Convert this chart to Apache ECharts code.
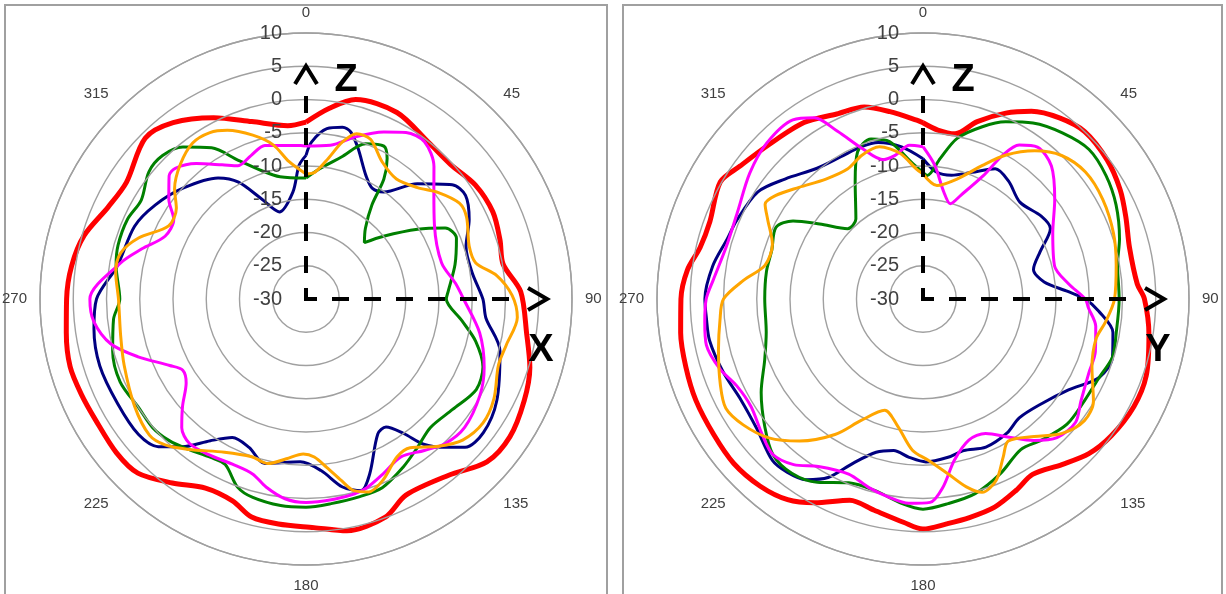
<!DOCTYPE html>
<html>
<head>
<meta charset="utf-8">
<script src="https://cdn.jsdelivr.net/npm/echarts@6/dist/echarts.min.js"></script>
<style>
  html, body { margin: 0; padding: 0; background: #ffffff; }
  #chart { width: 1226px; height: 594px; }
</style>
</head>
<body>
<div id="chart"></div>
<script>
// Radial scale (dB) and angle ticks (degrees, clockwise from top)
const radiusTicks = [-30, -25, -20, -15, -10, -5, 0, 5, 10];
const angleTicks = [0, 45, 90, 135, 180, 225, 270, 315];

// X-Z plane patterns: [angle in degrees, level in dB]
const xzRed = [[0,-3.4],[7,-1.1],[14,0.9],[26,1.2],[38,-0.1],[47,-0.3],[56,0.7],[65,1.0],[73,0.5],[80,0.1],[88,2.3],[99,3.6],[107,5.2],[115,6.2],[124,7.0],[132,6.6],[141,4.1],[153,3.1],[160,4.9],[170,5.4],[178,4.4],[187,4.1],[194,3.8],[200,2.3],[208,2.2],[216,4.2],[224,6.4],[231,6.7],[240,6.5],[247,6.7],[254,6.9],[262,6.4],[270,6.0],[278,5.6],[286,4.7],[295,2.8],[303,2.2],[315,4.2],[323,3.2],[333,0.6],[343,-2.1],[354,-3.8],[360,-3.4]];
const xzNavy = [[0,-8.4],[2,-6.4],[7,-4.2],[12,-3.6],[15,-4.0],[19,-6.0],[26,-9.4],[31,-10.6],[36,-10.1],[44,-5.9],[52,-2.1],[57,-1.4],[64,-2.7],[72,-4.7],[81,-4.7],[90,-3.4],[96,-2.8],[105,0.2],[118,2.5],[127,3.4],[133,2.7],[137,0.5],[141,-1.9],[144,-5.0],[148,-7.3],[152,-7.0],[160,-2.0],[164,0.0],[169,-1.2],[175,-4.1],[182,-5.5],[194,-4.5],[201,-6.1],[208,-6.4],[214,-4.3],[220,-1.0],[225,1.4],[231,2.4],[241,2.4],[252,2.6],[262,2.2],[270,1.5],[280,-1.2],[293,-2.0],[302,-3.3],[312,-5.1],[324,-7.5],[330,-9.7],[336,-13.5],[343,-16.3],[353,-13.8],[357,-9.9],[360,-8.4]];
const xzGreen = [[0,-11.8],[6,-10.3],[14,-8.0],[21,-5.0],[27,-4.2],[30,-5.6],[33,-8.5],[35,-12.7],[40,-16.1],[46,-17.8],[51,-15.0],[58,-10.2],[63,-6.5],[68,-5.6],[77,-7.0],[87,-8.6],[90,-8.9],[98,-6.3],[104,-3.7],[111,-1.5],[118,-1.0],[127,-2.4],[136,-3.1],[143,-2.1],[150,-0.8],[158,0.6],[165,0.8],[173,1.0],[180,1.3],[187,1.3],[195,0.9],[200,0.1],[206,-2.3],[211,-2.2],[218,-1.3],[224,-0.4],[230,0.1],[237,0.0],[246,0.6],[255,0.1],[264,-0.9],[270,-2.0],[280,-1.0],[286,-0.6],[294,-0.6],[301,-1.1],[309,0.4],[315,0.5],[321,-0.6],[328,-3.2],[334,-6.8],[341,-9.6],[348,-11.2],[360,-11.8]];
const xzMagenta = [[0,-7.0],[9,-6.6],[17,-4.5],[25,-2.3],[31,-0.8],[37,-0.4],[44,-2.3],[50,-4.9],[60,-7.7],[75,-8.9],[84,-7.4],[90,-6.3],[101,-3.4],[111,-1.3],[119,-0.1],[129,0.7],[136,0.2],[142,-1.1],[149,-2.3],[156,-1.3],[162,-0.2],[166,0.2],[172,0.4],[180,0.6],[186,0.2],[192,-1.1],[197,-2.5],[204,-2.8],[212,-2.4],[219,-2.1],[224,-3.1],[229,-5.4],[235,-8.0],[240,-8.6],[244,-7.2],[251,-3.3],[257,0.1],[264,2.1],[270,2.5],[281,-1.6],[287,-4.2],[294,-6.8],[301,-6.8],[306,-4.5],[312,-2.3],[315,-2.2],[321,-3.8],[328,-6.2],[333,-7.5],[339,-6.9],[345,-6.1],[358,-6.9],[360,-7.0]];
const xzOrange = [[0,-11.2],[4,-10.9],[9,-8.6],[13,-5.8],[17,-4.0],[22,-4.1],[29,-6.4],[37,-7.4],[45,-6.3],[51,-4.5],[58,-2.8],[63,-2.9],[72,-4.2],[78,-3.9],[83,-1.1],[89,1.0],[95,1.9],[103,0.9],[109,0.6],[118,2.0],[125,2.5],[132,1.7],[138,-0.2],[145,-2.7],[150,-2.6],[157,-0.4],[162,0.5],[166,-0.3],[169,-2.2],[173,-4.5],[177,-6.2],[181,-6.7],[187,-5.8],[193,-4.6],[199,-4.9],[208,-3.9],[218,-1.3],[224,0.5],[229,1.2],[238,0.4],[250,-0.9],[259,-1.6],[270,-1.8],[278,-1.1],[284,-1.3],[290,-3.2],[298,-6.6],[305,-6.2],[310,-4.2],[317,-2.3],[324,-1.0],[330,-1.1],[335,-2.0],[342,-4.1],[348,-6.3],[353,-9.2],[360,-11.2]];

// Y-Z plane patterns: [angle in degrees, level in dB]
const yzRed = [[0,-3.5],[5,-4.5],[11,-4.7],[17,-2.1],[24,0.6],[30,2.6],[37,4.1],[44,5.0],[53,4.7],[61,3.9],[68,2.9],[76,2.0],[86,2.3],[90,3.3],[99,4.4],[109,5.5],[117,5.6],[126,5.0],[133,4.1],[140,2.5],[148,1.1],[154,2.0],[161,3.1],[168,3.6],[174,4.0],[180,4.6],[185,3.7],[193,2.6],[200,2.2],[208,4.7],[214,6.4],[221,7.3],[229,7.7],[237,7.5],[246,7.4],[254,7.1],[262,6.8],[270,6.4],[277,5.7],[283,4.4],[290,4.1],[300,5.2],[306,4.0],[315,2.8],[326,2.0],[335,0.7],[343,0.2],[350,-1.4],[358,-3.1],[360,-3.5]];
const yzNavy = [[0,-8.9],[6,-10.8],[13,-10.9],[21,-9.6],[29,-7.6],[36,-8.1],[45,-9.4],[55,-8.3],[61,-8.1],[68,-11.0],[75,-12.8],[82,-11.6],[87,-8.2],[90,-5.6],[94,-3.5],[100,-1.0],[107,-0.2],[114,-1.0],[122,-4.2],[132,-6.3],[141,-7.0],[148,-6.2],[157,-5.8],[165,-6.4],[171,-5.9],[179,-5.5],[185,-6.1],[191,-6.8],[197,-5.9],[203,-3.2],[208,0.4],[213,2.4],[218,3.1],[223,3.2],[232,1.7],[241,1.3],[250,2.0],[259,2.7],[265,2.7],[270,2.8],[279,2.0],[287,0.8],[293,0.4],[303,-0.4],[311,-2.5],[321,-4.7],[330,-5.3],[338,-5.3],[344,-5.5],[352,-6.9],[360,-8.9]];
const yzGreen = [[0,-11.0],[2,-11.4],[7,-8.7],[12,-5.3],[19,-2.6],[25,-0.6],[32,1.2],[40,2.6],[48,3.6],[56,3.2],[64,2.3],[73,0.9],[80,-0.3],[90,-0.5],[100,-0.5],[107,-0.2],[114,-1.0],[122,-1.3],[131,-1.3],[140,-2.3],[147,-3.0],[156,-1.3],[165,0.3],[173,1.0],[180,1.6],[186,0.9],[194,-0.3],[202,-0.2],[210,1.8],[217,2.8],[224,2.5],[231,0.6],[240,-1.9],[249,-4.5],[258,-5.9],[270,-6.2],[280,-6.1],[288,-6.1],[296,-5.4],[301,-7.2],[306,-10.8],[313,-14.5],[320,-14.3],[330,-9.6],[336,-5.8],[342,-4.7],[348,-5.8],[355,-9.3],[360,-11.0]];
const yzMagenta = [[0,-7.1],[5,-9.8],[11,-13.6],[16,-15.1],[20,-13.4],[26,-9.4],[29,-5.3],[32,-2.7],[37,-1.4],[44,-2.2],[53,-5.2],[63,-8.1],[76,-9.6],[84,-8.0],[90,-5.6],[93,-5.1],[99,-3.7],[107,-2.9],[114,-2.7],[123,-1.7],[129,-0.5],[136,-1.0],[142,-3.0],[148,-5.5],[155,-7.7],[162,-7.7],[169,-5.3],[174,-1.5],[178,0.6],[184,0.8],[190,0.2],[196,-0.5],[203,-1.4],[212,-0.3],[218,1.6],[224,2.5],[230,1.6],[238,0.5],[245,0.9],[251,2.3],[258,3.3],[264,3.0],[270,2.6],[275,1.7],[285,0.6],[295,0.8],[306,2.2],[315,3.2],[324,3.3],[329,1.8],[333,-1.7],[338,-5.6],[344,-8.2],[349,-8.0],[355,-6.8],[360,-7.1]];
const yzOrange = [[0,-11.2],[7,-12.8],[16,-11.2],[24,-8.0],[30,-5.0],[37,-2.1],[44,0.0],[52,1.0],[61,0.9],[71,0.3],[80,-0.5],[90,-1.2],[97,-2.3],[103,-3.3],[112,-2.6],[121,-0.1],[127,0.4],[134,-0.9],[141,-3.4],[149,-5.1],[153,-3.4],[158,-0.6],[163,0.4],[167,-1.0],[172,-3.5],[178,-5.7],[184,-7.2],[191,-10.4],[199,-12.3],[207,-9.5],[213,-5.7],[221,-1.7],[228,1.2],[235,3.0],[241,3.9],[247,3.1],[256,1.7],[264,0.7],[270,0.0],[276,-2.9],[282,-5.7],[290,-5.9],[297,-3.8],[301,-2.3],[305,-2.9],[312,-4.9],[321,-6.8],[330,-7.4],[337,-6.5],[344,-6.2],[351,-7.8],[357,-10.4],[360,-11.2]];

// Panel axis letters
const panelLetters = [['Z', 'X'], ['Z', 'Y']];

const FONT = '"Liberation Sans", Arial, sans-serif';
const TEXT_COLOR = '#404040';
const RING_COLOR = '#a0a0a0';

const panels = [
  { cx: 306, cy: 299, box: [5, 5, 602, 592] },
  { cx: 923, cy: 299, box: [623, 5, 599, 592] }
];
const R = 266;

const traces = [
  [xzRed, xzNavy, xzGreen, xzMagenta, xzOrange],
  [yzRed, yzNavy, yzGreen, yzMagenta, yzOrange]
];
const traceStyle = [
  { color: '#ff0000', width: 5 },
  { color: '#000080', width: 3 },
  { color: '#008000', width: 3 },
  { color: '#ff00ff', width: 3 },
  { color: '#ffa500', width: 3 }
];

const chart = echarts.init(document.getElementById('chart'), null, { renderer: 'canvas' });

const polar = panels.map(p => ({ center: [p.cx, p.cy], radius: R }));

const angleAxis = panels.map((p, i) => ({
  polarIndex: i,
  type: 'value',
  min: 0,
  max: 360,
  interval: 45,
  startAngle: 90,
  clockwise: true,
  axisLine: { show: true, lineStyle: { color: RING_COLOR, width: 1.4 } },
  axisTick: { show: false },
  splitLine: { show: false },
  axisLabel: {
    margin: 13,
    fontSize: 15,
    color: TEXT_COLOR,
    fontFamily: FONT,
    formatter: v => (angleTicks.indexOf(v) >= 0 ? String(v) : '')
  }
}));

const radiusAxis = panels.map((p, i) => ({
  polarIndex: i,
  type: 'value',
  min: radiusTicks[0],
  max: radiusTicks[radiusTicks.length - 1],
  interval: radiusTicks[1] - radiusTicks[0],
  axisLine: { show: false },
  axisTick: { show: false },
  splitLine: { show: true, lineStyle: { color: RING_COLOR, width: 1.4 } },
  axisLabel: {
    margin: 24,
    fontSize: 20,
    color: TEXT_COLOR,
    fontFamily: FONT
  },
  z: 5
}));

const series = [];
traces.forEach((set, pi) => {
  set.forEach((pts, si) => {
    series.push({
      type: 'line',
      coordinateSystem: 'polar',
      polarIndex: pi,
      data: pts.map(([a, v]) => [v, a]),
      smooth: 0.3,
      showSymbol: false,
      silent: true,
      lineStyle: { color: traceStyle[si].color, width: traceStyle[si].width },
      z: 2 + si
    });
  });
});

// Frames, dashed axis arrows and axis letters
const graphic = [];
panels.forEach((p, i) => {
  const { cx, cy } = p;
  graphic.push({
    type: 'rect', z: 0, silent: true,
    shape: { x: p.box[0], y: p.box[1], width: p.box[2], height: p.box[3] },
    style: { fill: 'none', stroke: '#a0a0a0', lineWidth: 2 }
  });
  const dash = { stroke: '#000', lineWidth: 4, lineDash: [17, 15], lineDashOffset: 4 };
  graphic.push({
    type: 'line', z: 100, silent: true,
    shape: { x1: cx, y1: cy + 2, x2: cx, y2: cy - 205 },
    style: dash
  });
  graphic.push({
    type: 'line', z: 100, silent: true,
    shape: { x1: cx - 2, y1: cy, x2: cx + 207, y2: cy },
    style: dash
  });
  graphic.push({
    type: 'polyline', z: 100, silent: true,
    shape: { points: [[cx - 11, cy - 215], [cx, cy - 233], [cx + 11, cy - 215]] },
    style: { stroke: '#000', lineWidth: 4, fill: null }
  });
  graphic.push({
    type: 'polyline', z: 100, silent: true,
    shape: { points: [[cx + 222, cy - 11], [cx + 241, cy], [cx + 222, cy + 11]] },
    style: { stroke: '#000', lineWidth: 4, fill: null }
  });
  graphic.push({
    type: 'text', z: 100, silent: true,
    x: cx + 40, y: cy - 218,
    style: { text: panelLetters[i][0], font: 'bold 38px ' + FONT, fill: '#000', align: 'center', verticalAlign: 'middle' }
  });
  graphic.push({
    type: 'text', z: 100, silent: true,
    x: cx + 235, y: cy + 52,
    style: { text: panelLetters[i][1], font: 'bold 38px ' + FONT, fill: '#000', align: 'center', verticalAlign: 'middle' }
  });
});

chart.setOption({
  animation: false,
  backgroundColor: '#ffffff',
  polar,
  angleAxis,
  radiusAxis,
  series,
  graphic
});
</script>
</body>
</html>
